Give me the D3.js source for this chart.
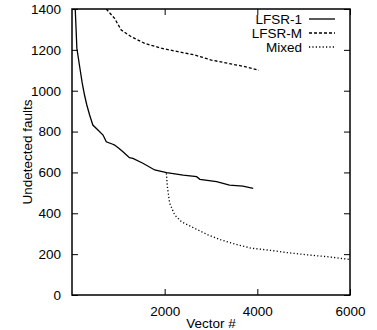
<!DOCTYPE html>
<html>
<head>
<meta charset="utf-8">
<script src="https://cdn.jsdelivr.net/npm/d3@7"></script>
<style>
  body { margin: 0; background: #fff; }
  svg { display: block; font-family: "Liberation Sans", Arial, sans-serif; }
</style>
</head>
<body>
<svg id="drawing_region"></svg>
<script>
// vector #, undetected faults
const lfsr1_x = [70, 105, 160, 220, 270, 320, 380, 450, 560, 670, 740, 880, 920, 1010, 1100, 1135, 1240, 1315, 1530, 1785, 2040, 2400, 2690, 2760, 3120, 3400, 3690, 3910];
const lfsr1_y = [1400, 1208, 1126, 1038, 979, 930, 881, 832, 808, 783, 750, 738, 734, 718, 701, 694, 672, 669, 645, 612, 599, 587, 579, 566, 555, 538, 533, 522];

const lfsrm_x = [739, 919, 1063, 1280, 1567, 1928, 2287, 2648, 3009, 3368, 3730, 4030];
const lfsrm_y = [1400, 1354, 1297, 1264, 1232, 1208, 1191, 1175, 1150, 1134, 1118, 1100];

const mixed_x = [2037, 2058, 2108, 2216, 2361, 2648, 2936, 3226, 3585, 3874, 4233, 4666, 5098, 5530, 6000];
const mixed_y = [596, 530, 449, 392, 359, 326, 294, 269, 245, 229, 220, 207, 196, 187, 174];

const series_names = ["LFSR-1", "LFSR-M", "Mixed"];
const x_ticks = [2000, 4000, 6000];
const y_ticks = [0, 200, 400, 600, 800, 1000, 1200, 1400];

const series = [
    { name: series_names[0], xs: lfsr1_x, ys: lfsr1_y, dash: null },
    { name: series_names[1], xs: lfsrm_x, ys: lfsrm_y, dash: "3,2" },
    { name: series_names[2], xs: mixed_x, ys: mixed_y, dash: "1.2,2.2" }
];

const config = {
    width: 377,
    height: 330,
    margin: {top: 9, right: 27, bottom: 35, left: 72}
};

const font_size = '13.5px';

const svg = d3.select('#drawing_region')
    .attr('width', config.width)
    .attr('height', config.height);

const inner_width = config.width - config.margin.left - config.margin.right;
const inner_height = config.height - config.margin.top - config.margin.bottom;

const chart = svg.append('g')
    .attr('transform', `translate(${config.margin.left}, ${config.margin.top})`);

const xscale = d3.scaleLinear().domain([0, 6000]).range([0, inner_width]);
const yscale = d3.scaleLinear().domain([0, 1400]).range([inner_height, 0]);

const tick_len = 6;
const fmt = d3.format('d');

// inward ticks, gnuplot style, mirrored on top and right
const xaxis_b = d3.axisBottom(xscale).tickValues(x_ticks).tickSize(-tick_len).tickPadding(tick_len + 5).tickFormat(fmt);
const xaxis_t = d3.axisTop(xscale).tickValues(x_ticks).tickSize(-tick_len).tickFormat('');
const yaxis_l = d3.axisLeft(yscale).tickValues(y_ticks).tickSize(-tick_len).tickPadding(tick_len + 5).tickFormat(fmt);
const yaxis_r = d3.axisRight(yscale).tickValues(y_ticks).tickSize(-tick_len).tickFormat('');

function style_axis(g) {
    g.select('.domain').remove();
    g.selectAll('line').attr('stroke', '#000').attr('stroke-width', 1);
    g.selectAll('text').attr('fill', '#000').attr('font-size', font_size)
        .attr('font-family', '"Liberation Sans", Arial, sans-serif');
}

chart.append('g').attr('transform', `translate(0, ${inner_height})`).call(xaxis_b).call(style_axis);
chart.append('g').call(xaxis_t).call(style_axis);
chart.append('g').call(yaxis_l).call(style_axis);
chart.append('g').attr('transform', `translate(${inner_width}, 0)`).call(yaxis_r).call(style_axis);

chart.append('defs').append('clipPath').attr('id', 'clip')
    .append('rect').attr('width', inner_width).attr('height', inner_height);

const line = d3.line()
    .x(d => xscale(d[0]))
    .y(d => yscale(d[1]));

chart.append('g').attr('clip-path', 'url(#clip)')
    .selectAll('path')
    .data(series)
    .enter()
    .append('path')
    .attr('fill', 'none')
    .attr('stroke', '#000')
    .attr('stroke-width', 1.3)
    .attr('stroke-dasharray', d => d.dash)
    .attr('d', d => line(d.xs.map((x, i) => [x, d.ys[i]])));

// frame
chart.append('rect')
    .attr('width', inner_width)
    .attr('height', inner_height)
    .attr('fill', 'none')
    .attr('stroke', '#000')
    .attr('stroke-width', 1.5);

// legend
const legend = chart.append('g');
series.forEach((s, i) => {
    const ly = 10 + i * 14;
    legend.append('text')
        .attr('x', 230)
        .attr('y', ly)
        .attr('dy', '0.35em')
        .attr('text-anchor', 'end')
        .attr('font-size', font_size)
        .attr('fill', '#000')
        .text(s.name);
    legend.append('line')
        .attr('x1', 237).attr('x2', 263)
        .attr('y1', ly).attr('y2', ly)
        .attr('stroke', '#000')
        .attr('stroke-width', 1.3)
        .attr('stroke-dasharray', s.dash);
});

// axis labels
svg.append('text')
    .attr('x', config.margin.left + inner_width / 2)
    .attr('y', 323)
    .attr('dy', '0.35em')
    .attr('text-anchor', 'middle')
    .attr('font-size', font_size)
    .attr('fill', '#000')
    .text('Vector #');

svg.append('text')
    .attr('transform', `translate(27, ${config.margin.top + inner_height / 2}) rotate(-90)`)
    .attr('dy', '0.35em')
    .attr('text-anchor', 'middle')
    .attr('font-size', font_size)
    .attr('fill', '#000')
    .text('Undetected faults');
</script>
</body>
</html>
